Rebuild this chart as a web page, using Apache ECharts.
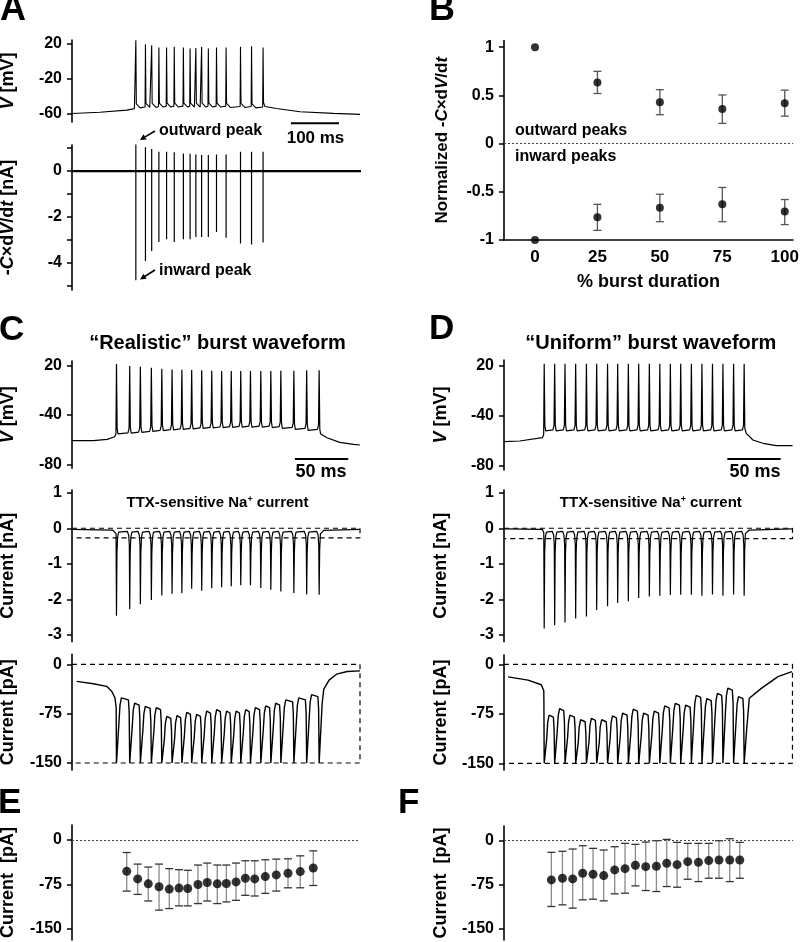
<!DOCTYPE html>
<html><head><meta charset="utf-8">
<script src="https://cdn.jsdelivr.net/npm/echarts@6.0.0/dist/echarts.min.js"></script>
<style>html,body{margin:0;padding:0;background:#fff}#c{width:800px;height:942px}</style>
</head><body><div id="c"></div>
<script>
// ---------------- Panel A ----------------
const aSpikeT   = [133, 153, 166, 181, 197, 213, 232, 246, 258, 270, 284, 301, 321, 351, 374, 398];
const aSpikeV   = [23.7, 19.2, 18, 15.5, 15.5, 16.2, 15.5, 14.3, 15, 16.2, 14.3, 15.5, 15.5, 16.2, 17, 15.5];
const aTroughV  = [-53, -52.5, -52.5, -52, -52, -52, -52, -52, -52, -52, -52, -52, -52.5, -52.5, -53];
const aPreT  = [0, 58, 114, 130];
const aPreV  = [-59.3, -58, -55.5, -53.8];
const aPostT = [402, 426, 475, 544, 600];
const aPostV = [-51.5, -53.6, -57.4, -59.2, -60.3];
const aOutPeak = [1.26, 1.04, 0.96, 0.85, 0.85, 0.82, 0.77, 0.76, 0.73, 0.70, 0.70, 0.73, 0.73, 0.85, 0.85, 0.85];
const aInPeak  = [-4.77, -3.93, -3.5, -3.1, -2.98, -3.1, -2.98, -2.98, -2.88, -2.88, -2.88, -2.66, -2.92, -3.17, -3.21, -3.12];
const aTimeRange = [0, 602];
const aScaleBar = [456, 556];
const aVTicks = [-60, -20, 20];
const aITicks = [1, 0, -1, -2, -3, -4, -5];
const aILabels = [0, -2, -4];

// ---------------- Panel B ----------------
const bPct = [0, 25, 50, 75, 100];
const bOutMean = [1, 0.635, 0.43, 0.36, 0.42];
const bOutLow  = [null, 0.52, 0.30, 0.21, 0.285];
const bOutHigh = [null, 0.75, 0.56, 0.505, 0.555];
const bInMean  = [-1, -0.765, -0.665, -0.63, -0.705];
const bInLow   = [null, -0.90, -0.81, -0.81, -0.84];
const bInHigh  = [null, -0.63, -0.525, -0.455, -0.58];
const bXTicks = [0, 25, 50, 75, 100];
const bYTicks = [-1, -0.5, 0, 0.5, 1];

// ---------------- Panel C ("Realistic") ----------------
const cSpikeT = [41.7, 54.1, 64.1, 74.4, 84.2, 93.8, 103, 112.2, 121.6, 131, 140.3, 149.3, 158.2, 167.3, 177, 186.4, 195.8, 208, 220, 231.7];
const cSpikeV = [21.7, 19.7, 19, 18, 17, 16.3, 16, 15.6, 15.3, 15, 14.6, 14.6, 14.6, 14.6, 14.6, 14.6, 15, 15, 15.3, 15.3];
const cTroughV = [-50.5, -49.8, -49, -48, -47.3, -46.5, -46, -45.5, -45, -44.6, -44.3, -44, -43.8, -43.7, -43.8, -44.2, -45, -46, -47];
const cVPreT = [0, 20, 33, 40];
const cVPreV = [-56, -56, -54.7, -52];
const cVPostT = [233, 239, 251, 264, 270];
const cVPostV = [-49, -53, -57.7, -59.7, -60.4];
const cNaPeak = [-2.46, -2.28, -2.14, -2.02, -1.89, -1.84, -1.83, -1.7, -1.76, -1.69, -1.66, -1.63, -1.6, -1.6, -1.68, -1.73, -1.78, -1.82, -1.86, -1.87];
const cNaRecovery = -0.07;
const cNaPreT = [0, 38];
const cNaPreV = [-0.03, -0.05];
const cNaPostT = [236, 270];
const cNaPostV = [-0.06, -0.03];
const cNaRef = [0, -0.27];
const cPAPeak = [-48, -56, -61, -63, -76, -75, -70, -73, -68, -66, -68, -68, -66, -63, -60, -56, -51, -48, -43];
const cPAPreT = [4.4, 20, 32.5, 37.2, 40.3];
const cPAPreV = [-26, -29.5, -33.5, -41, -51];
const cPAPostT = [234.5, 236, 241, 248, 258, 270];
const cPAPostV = [-60, -38, -24, -15, -11, -10];
const cPARef = [0, -150];
const cTimeRange = [0, 270];
const cScaleBar = [209, 259];
const vTickValues = [-80, -30, 20];
const vTickLabels = ['-80', '-40', '20'];
const naTicks = [1, 0, -1, -2, -3];
const paTicks = [0, -75, -150];

// ---------------- Panel E ----------------
const eT    = [51.3, 61.6, 71.5, 81.6, 91.2, 100.3, 108.5, 118.1, 126.8, 136.2, 144.7, 153.8, 162.5, 171.3, 181.2, 191.5, 202.5, 214, 226.2];
const eMean = [-52.8, -65.6, -73.9, -78.9, -82.8, -81.1, -81.7, -75, -71.7, -73.9, -73.3, -70.6, -64.4, -65.6, -61.7, -58.9, -56.1, -53.3, -47.2];
const eHigh = [-21.1, -40.6, -45.6, -40.6, -48.3, -50, -51.1, -42.2, -38.9, -42.2, -42.2, -38.9, -35, -35, -33.3, -32.2, -31.7, -26.7, -18.3];
const eLow  = [-86.1, -91.7, -102.8, -118.3, -115.6, -111.1, -111.1, -107.2, -102.8, -107.2, -104.4, -101.7, -93.3, -94.4, -90, -86.1, -80.6, -80.6, -76.7];

// ---------------- Panel D ("Uniform") ----------------
const dSpikeT = [37.7, 47.5, 57.2, 67.2, 77.3, 86.9, 97.1, 106.6, 116.6, 126.3, 136.3, 146.1, 156, 165.7, 175.7, 185.6, 195.5, 205.3, 215.3, 225.2];
const dSpikeV = [22, 22, 22, 22, 22, 22, 22, 22, 22, 22, 22, 22, 22, 22, 22, 22, 22, 22, 22, 22];
const dTroughV = [-46.6, -46.6, -46.6, -46.6, -46.6, -46.6, -46.6, -46.6, -46.6, -46.6, -46.6, -46.6, -46.6, -46.6, -46.6, -46.6, -46.6, -46.6, -46.6];
const dVPreT = [0, 14.7, 36];
const dVPreV = [-56, -55.3, -52];
const dVPostT = [227.2, 233.4, 242.8, 255.4, 270.6];
const dVPostV = [-47.6, -54.3, -57.6, -60, -60];
const dNaPeak = [-2.82, -2.73, -2.65, -2.54, -2.48, -2.3, -2.19, -2.1, -2.05, -1.96, -1.92, -1.9, -1.88, -1.87, -1.87, -1.9, -1.86, -1.9, -1.86, -1.9];
const dNaRecovery = -0.07;
const dNaPreT = [0, 36];
const dNaPreV = [-0.02, -0.03];
const dNaPostT = [230, 270.5];
const dNaPostV = [-0.05, -0.02];
const dNaRef = [0, -0.29];
const dPAPeak = [-74, -64, -74, -81, -79, -81, -75, -71, -65, -71, -68, -60, -56, -59, -44, -49, -41, -33, -46];
const dPAPreT = [3.8, 22.5, 35, 37.3];
const dPAPreV = [-19, -24, -31, -40];
const dPAPostT = [227.5, 230, 241.3, 256.9, 270];
const dPAPostV = [-100, -51.5, -36.4, -18.7, -11];
const dPARef = [0, -150];
const dTimeRange = [0, 271];
const dBoxRight = 270.5;
const dScaleBar = [209.4, 259.4];

// ---------------- Panel F ----------------
const fT    = [44.4, 54.8, 64.4, 73.8, 83.5, 93.5, 103.8, 113.5, 123.2, 132.9, 142.9, 152.6, 162.3, 172.3, 182.3, 192, 201.6, 211.7, 221.1];
const fMean = [-66.5, -63.7, -64.9, -55.3, -57, -59.2, -49.6, -47.4, -41.7, -44, -43.4, -38.4, -40.6, -35.5, -36.7, -33.8, -32.7, -32.7, -32.7];
const fHigh = [-19.7, -18, -14.1, -8.5, -13, -15.8, -10.2, -4.5, -6.2, -2.3, 0, 2.3, -2.8, -4.5, -4.5, -4.5, 0, 3.4, -2.8];
const fLow  = [-111.7, -108.9, -114.5, -100.4, -99.3, -102.1, -90.2, -89.1, -76.7, -84.6, -86.3, -77.8, -79, -65.4, -69.4, -63.7, -63.7, -69.4, -63.7];

// ================= builders =================
const FONT = '"Liberation Sans", Arial, Helvetica, sans-serif';
const zip = (a, b) => a.map((v, i) => [v, b[i]]);

function buildA() {
  const p = zip(aPreT, aPreV);
  const n = aSpikeT.length;
  for (let i = 0; i < n; i++) {
    const t = aSpikeT[i];
    p.push([t - 0.8, i === 0 ? aPreV[aPreV.length - 1] + 1 : aTroughV[i - 1] + 1]);
    p.push([t, aSpikeV[i]]);
    const tr = i < n - 1 ? aTroughV[i] : aPostV[0];
    p.push([t + 1, tr + 4.5], [t + 3, tr + 4]);
    if (i < n - 1) p.push([t + 9, tr]);
  }
  return p.concat(zip(aPostT, aPostV));
}
function buildAI() {
  const p = [];
  aSpikeT.forEach((t, i) => { p.push([t, 0], [t, aOutPeak[i]], [t, aInPeak[i]], [t, 0]); });
  return p;
}
function buildV(preT, preV, T, peaks, troughs, postT, postV) {
  const p = zip(preT, preV);
  const n = T.length;
  for (let i = 0; i < n; i++) {
    const t = T[i];
    if (i === 0) p.push([t - 0.5, preV[preV.length - 1] + 3]);
    else { const tr = troughs[i - 1]; p.push([t - 1.6, tr + 2.5], [t - 0.6, tr + 7]); }
    p.push([t, peaks[i]]);
    if (i < n - 1) { const tr = troughs[i]; p.push([t + 0.6, tr + 7], [t + 1.4, tr + 1.5], [t + 2.8, tr]); }
    else p.push([t + 0.6, postV[0] + 5]);
  }
  return p.concat(zip(postT, postV));
}
function buildNa(preT, preV, T, peaks, lv, postT, postV) {
  const p = zip(preT, preV);
  const n = T.length;
  for (let i = 0; i < n; i++) {
    const t = T[i];
    if (i === 0) p.push([t - 0.4, preV[preV.length - 1] - 0.1]);
    else p.push([t - 2.2, lv - 0.02], [t - 1, lv - 0.12], [t - 0.35, lv - 0.4]);
    p.push([t, peaks[i]]);
    if (i < n - 1) p.push([t + 0.45, -0.7], [t + 1, lv - 0.2], [t + 2, lv - 0.04], [t + 3.2, lv]);
    else p.push([t + 0.5, -0.6], [t + 1.2, postV[0] - 0.1]);
  }
  return p.concat(zip(postT, postV));
}
function buildPA(preT, preV, T, peaks, postT, postV, floor) {
  const p = zip(preT, preV);
  const n = T.length;
  for (let i = 0; i < n; i++) {
    const t = T[i];
    if (i === 0) p.push([t - 0.3, preV[preV.length - 1] - 15]);
    else { const pk = peaks[i - 1]; p.push([t - 1.2, pk - 6], [t - 0.5, pk - 25]); }
    p.push([t, floor]);
    p.push([t + 1.7, floor]);
    if (i < n - 1) { const pk = peaks[i]; p.push([t + 2.4, pk - 38], [t + 3.3, pk - 14], [t + 4.6, pk - 3], [t + 5.8, pk]); }
  }
  return p.concat(zip(postT, postV));
}
function box(x0, x1, levels) {
  return [[x0, levels[0]], [x1, levels[0]], [x1, levels[1]], [x0, levels[1]]];
}

// ================= axes =================
const grids = [
  {left: 72, top: 40, width: 289, height: 82},      // 0 A V
  {left: 72, top: 145, width: 289, height: 145},    // 1 A I
  {left: 504, top: 40.5, width: 289, height: 199.5},// 2 B
  {left: 72, top: 361, width: 288, height: 107.3},  // 3 C V
  {left: 72, top: 490, width: 288, height: 151.7},  // 4 C nA
  {left: 72, top: 654.3, width: 288, height: 115.7},// 5 C pA
  {left: 72, top: 825, width: 288, height: 115},    // 6 E
  {left: 504, top: 360, width: 289, height: 110},   // 7 D V
  {left: 504, top: 490, width: 289, height: 151.7}, // 8 D nA
  {left: 504, top: 655, width: 289, height: 115},   // 9 D pA
  {left: 504, top: 826, width: 289, height: 114}    // 10 F
].map(g => Object.assign({outerBoundsMode: 'none', containLabel: false}, g));

const richName = {
  i: {fontStyle: 'italic', fontWeight: 'bold', fontSize: 18, fontFamily: FONT, color: '#000'},
  n: {fontWeight: 'bold', fontSize: 18, fontFamily: FONT, color: '#000'}
};
const richNameB = {
  i: {fontStyle: 'italic', fontWeight: 'bold', fontSize: 17, fontFamily: FONT, color: '#000'},
  n: {fontWeight: 'bold', fontSize: 17, fontFamily: FONT, color: '#000'}
};
function yAx(gi, min, max, ticks, labels, name, gap, fmt, rich, labelSize) {
  return {
    type: 'value', gridIndex: gi, min, max, splitLine: {show: false},
    axisLine: {show: true, onZero: false, lineStyle: {color: '#000', width: 1.6}},
    axisTick: {show: true, length: 5, lineStyle: {color: '#000', width: 1.5}, customValues: ticks},
    axisLabel: {show: true, customValues: labels, margin: 10, color: '#000', fontFamily: FONT, fontWeight: 'bold', fontSize: labelSize || 16, formatter: fmt || (v => String(v))},
    name, nameLocation: 'middle', nameRotate: 90, nameGap: gap,
    nameTextStyle: {rich: rich || richName, fontFamily: FONT, fontWeight: 'bold', fontSize: 18, color: '#000'}
  };
}
function xHidden(gi, range) {
  return {type: 'value', gridIndex: gi, min: range[0], max: range[1], show: false, splitLine: {show: false}};
}
const vFmt = v => vTickLabels[vTickValues.indexOf(v)];

const xAxis = [
  xHidden(0, aTimeRange), xHidden(1, aTimeRange),
  {type: 'value', gridIndex: 2, min: -12.4, max: 103.3, splitLine: {show: false},
   axisLine: {show: true, onZero: false, lineStyle: {color: '#000', width: 1.6}},
   axisTick: {show: false},
   axisLabel: {customValues: bXTicks, margin: 9, color: '#000', fontFamily: FONT, fontWeight: 'bold', fontSize: 17},
   name: '% burst duration', nameLocation: 'middle', nameGap: 33,
   nameTextStyle: {fontFamily: FONT, fontWeight: 'bold', fontSize: 18, color: '#000'}},
  xHidden(3, cTimeRange), xHidden(4, cTimeRange), xHidden(5, cTimeRange), xHidden(6, cTimeRange),
  xHidden(7, dTimeRange), xHidden(8, dTimeRange), xHidden(9, dTimeRange), xHidden(10, dTimeRange)
];
const yAxis = [
  yAx(0, -69, 24, aVTicks, aVTicks, '{i|V}{n| [mV]}', 55),
  yAx(1, -5.2, 1.14, aITicks, aILabels, '{n|-}{i|C}{n|×d}{i|V}{n|/d}{i|t}{n| [nA]}', 55),
  yAx(2, -1, 1.07, bYTicks, bYTicks, '{n|Normalized -}{i|C}{n|×d}{i|V}{n|/d}{i|t}', 53, null, richNameB, 16),
  yAx(3, -84, 24.8, vTickValues, vTickValues, '{i|V}{n| [mV]}', 55, vFmt),
  yAx(4, -3.19, 1.076, naTicks, naTicks, '{n|Current [nA]}', 55),
  yAx(5, -160.6, 15.2, paTicks, paTicks, '{n|Current [pA]}', 55),
  yAx(6, -168.6, 25.3, paTicks, paTicks, '{n|Current  [pA]}', 55),
  yAx(7, -84.3, 25.7, vTickValues, vTickValues, '{i|V}{n| [mV]}', 54, vFmt),
  yAx(8, -3.19, 1.076, naTicks, naTicks, '{n|Current [nA]}', 54),
  yAx(9, -160.1, 14.1, paTicks, paTicks, '{n|Current [pA]}', 54),
  yAx(10, -168.6, 25, paTicks, paTicks, '{n|Current  [pA]}', 54)
];

// ================= series =================
function line(gi, data, width, extra) {
  return Object.assign({type: 'line', xAxisIndex: gi, yAxisIndex: gi, data, symbol: 'none', showSymbol: false,
    lineStyle: {color: '#000', width: width || 1.2}, silent: true, z: 3}, extra || {});
}
function dashed(gi, data) {
  return line(gi, data, 1.2, {lineStyle: {color: '#000', width: 1.2, type: [5, 4]}, z: 2});
}
function errBars(gi, xs, lo, hi, stem, cap, half, w) {
  const data = [];
  xs.forEach((x, i) => { if (lo[i] != null) data.push([x, lo[i], hi[i]]); });
  return {type: 'custom', xAxisIndex: gi, yAxisIndex: gi, data, z: 2, silent: true,
    encode: {x: 0, y: [1, 2]},
    renderItem: (params, api) => {
      const x = api.value(0);
      const a = api.coord([x, api.value(1)]);
      const b = api.coord([x, api.value(2)]);
      return {type: 'group', children: [
        {type: 'line', shape: {x1: a[0], y1: a[1], x2: b[0], y2: b[1]}, style: {stroke: stem, lineWidth: w}},
        {type: 'line', shape: {x1: a[0] - half, y1: a[1], x2: a[0] + half, y2: a[1]}, style: {stroke: cap, lineWidth: w}},
        {type: 'line', shape: {x1: b[0] - half, y1: b[1], x2: b[0] + half, y2: b[1]}, style: {stroke: cap, lineWidth: w}}
      ]};
    }};
}
function dots(gi, xs, ys, size, zeroLine) {
  const s = {type: 'scatter', xAxisIndex: gi, yAxisIndex: gi, data: zip(xs, ys), symbol: 'circle', symbolSize: size,
    itemStyle: {color: '#000'}, z: 4, silent: true};
  if (zeroLine) s.markLine = {silent: true, symbol: 'none', label: {show: false},
    lineStyle: {color: '#444', width: 1.2, type: [2, 2]}, data: [{yAxis: 0}], animation: false};
  return s;
}

const series = [
  // A
  line(0, buildA(), 1.1),
  line(0, zip(aScaleBar, [-70.5, -70.5]), 2, {clip: false}),
  line(1, zip(aTimeRange, [0, 0]), 2.2),
  line(1, buildAI(), 1.2),
  // B
  errBars(2, bPct, bOutLow, bOutHigh, '#555', '#555', 4, 1.3),
  errBars(2, bPct, bInLow, bInHigh, '#555', '#555', 4, 1.3),
  dots(2, bPct, bOutMean, 8, true),
  dots(2, bPct, bInMean, 8, false),
  // C
  line(3, buildV(cVPreT, cVPreV, cSpikeT, cSpikeV, cTroughV, cVPostT, cVPostV), 1.2),
  line(3, zip(cScaleBar, [-74.6, -74.6]), 2, {clip: false}),
  dashed(4, box(cTimeRange[0], cTimeRange[1], cNaRef)),
  line(4, buildNa(cNaPreT, cNaPreV, cSpikeT, cNaPeak, cNaRecovery, cNaPostT, cNaPostV), 1.2),
  dashed(5, box(cTimeRange[0], cTimeRange[1], cPARef)),
  line(5, buildPA(cPAPreT, cPAPreV, cSpikeT, cPAPeak, cPAPostT, cPAPostV, cPARef[1]), 1.4),
  // E
  errBars(6, eT, eLow, eHigh, '#8a8a8a', '#333', 4, 1.3),
  dots(6, eT, eMean, 9, true),
  // D
  line(7, buildV(dVPreT, dVPreV, dSpikeT, dSpikeV, dTroughV, dVPostT, dVPostV), 1.2),
  line(7, zip(dScaleBar, [-73.3, -73.3]), 2, {clip: false}),
  dashed(8, box(dTimeRange[0], dBoxRight, dNaRef)),
  line(8, buildNa(dNaPreT, dNaPreV, dSpikeT, dNaPeak, dNaRecovery, dNaPostT, dNaPostV), 1.2),
  dashed(9, box(dTimeRange[0], dBoxRight, dPARef)),
  line(9, buildPA(dPAPreT, dPAPreV, dSpikeT, dPAPeak, dPAPostT, dPAPostV, dPARef[1]), 1.4),
  // F
  errBars(10, fT, fLow, fHigh, '#8a8a8a', '#333', 4, 1.3),
  dots(10, fT, fMean, 9, true)
];

// ================= texts =================
function txt(text, x, y, size, align, extra) {
  return {type: 'text', x, y, silent: true, z: 10,
    style: Object.assign({text, fontFamily: FONT, fontWeight: 'bold', fontSize: size, fill: '#000',
      align: align || 'left', verticalAlign: 'middle'}, extra || {})};
}
const ttxRich = {
  n: {fontFamily: FONT, fontWeight: 'bold', fontSize: 15, fill: '#000'},
  s: {fontFamily: FONT, fontWeight: 'bold', fontSize: 9, fill: '#000', verticalAlign: 'top'}
};
function arrow(x1, y1, tip, b1, b2) {
  return [
    {type: 'line', silent: true, z: 10, shape: {x1, y1, x2: (b1[0] + b2[0]) / 2, y2: (b1[1] + b2[1]) / 2}, style: {stroke: '#000', lineWidth: 1.6}},
    {type: 'polygon', silent: true, z: 10, shape: {points: [tip, b1, b2]}, style: {fill: '#000'}}
  ];
}
const graphic = [
  txt('A', 0, 10, 36), txt('B', 429, 10, 36), txt('C', -1, 330, 35), txt('D', 429, 329, 35),
  txt('E', -2, 803, 35), txt('F', 398, 803, 35),
  txt('outward peak', 159, 131, 16), txt('inward peak', 159, 271, 16),
  txt('100 ms', 315.5, 138, 17, 'center'),
  txt('outward peaks', 515, 131, 16), txt('inward peaks', 515, 157, 16),
  txt('\u201cRealistic\u201d burst waveform', 217.5, 343, 20, 'center'),
  txt('\u201cUniform\u201d burst waveform', 650.8, 343, 20, 'center'),
  txt('50 ms', 321, 472, 18, 'center'), txt('50 ms', 755, 472, 18, 'center'),
  txt('{n|TTX-sensitive Na}{s|+}{n| current}', 217.5, 503, 15, 'center', {rich: ttxRich}),
  txt('{n|TTX-sensitive Na}{s|+}{n| current}', 650.8, 503, 15, 'center', {rich: ttxRich}),
  ...arrow(155, 131, [140, 140], [146.7, 139.4], [143.5, 134.3]),
  ...arrow(155, 270, [140, 279.5], [146.6, 278.8], [143.4, 273.8])
];

const chart = echarts.init(document.getElementById('c'), null, {renderer: 'canvas'});
chart.setOption({animation: false, backgroundColor: '#fff', grid: grids, xAxis, yAxis, series, graphic});
</script></body></html>
